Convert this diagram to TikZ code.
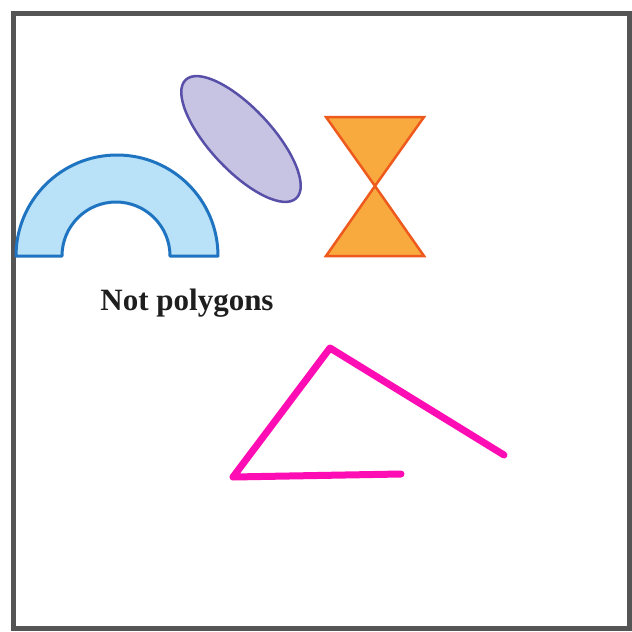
\documentclass[tikz,border=0pt]{standalone}
\usepackage{fontspec}
\setmainfont{Liberation Serif}
\definecolor{framegray}{HTML}{555555}
\definecolor{archfill}{HTML}{B9E2F8}
\definecolor{archline}{HTML}{1E74C0}
\definecolor{ellfill}{HTML}{C6C4E2}
\definecolor{ellline}{HTML}{5850A8}
\definecolor{hgfill}{HTML}{F9AA3E}
\definecolor{hgline}{HTML}{EE5A1E}
\definecolor{pinkline}{HTML}{FF0DB4}
\definecolor{textcol}{HTML}{1E1E1E}
\begin{document}
\begin{tikzpicture}[x=1pt,y=-1pt,
  frame/.style={draw=framegray,line width=5pt},
  archstyle/.style={fill=archfill,draw=archline,line width=3pt,line join=round},
  ellstyle/.style={fill=ellfill,draw=ellline,line width=2.5pt},
  hgstyle/.style={fill=hgfill,draw=hgline,line width=2.5pt,line join=miter},
  pinkstyle/.style={draw=pinkline,line width=7pt,line cap=round,line join=round},
  caption/.style={text=textcol,font=\fontsize{31}{34}\selectfont\bfseries}]
\useasboundingbox (0,0) rectangle (632,632);
\fill[white] (0,0) rectangle (632,632);
\draw[frame] (13,13) rectangle (629,628);
% arch
\draw[archstyle] (16,256) arc[start angle=180,end angle=360,radius=101] -- (170,256)
  arc[start angle=360,end angle=180,radius=54] -- cycle;
% ellipse
\draw[ellstyle,rotate around={-47:(241,139)}] (241,139) ellipse[x radius=81,y radius=31];
% hourglass
\draw[hgstyle] (326,117) -- (424,117) -- (375,186) -- cycle;
\draw[hgstyle] (326,256) -- (424,256) -- (375,186) -- cycle;
% caption
\node[caption] (cap) at (187,303) {Not polygons};
% open figure
\coordinate (p1) at (401,474);
\coordinate (p2) at (233,477);
\coordinate (p3) at (330,348);
\coordinate (p4) at (504,455);
\draw[pinkstyle] (p1) -- (p2) -- (p3) -- (p4);
\end{tikzpicture}
\end{document}
